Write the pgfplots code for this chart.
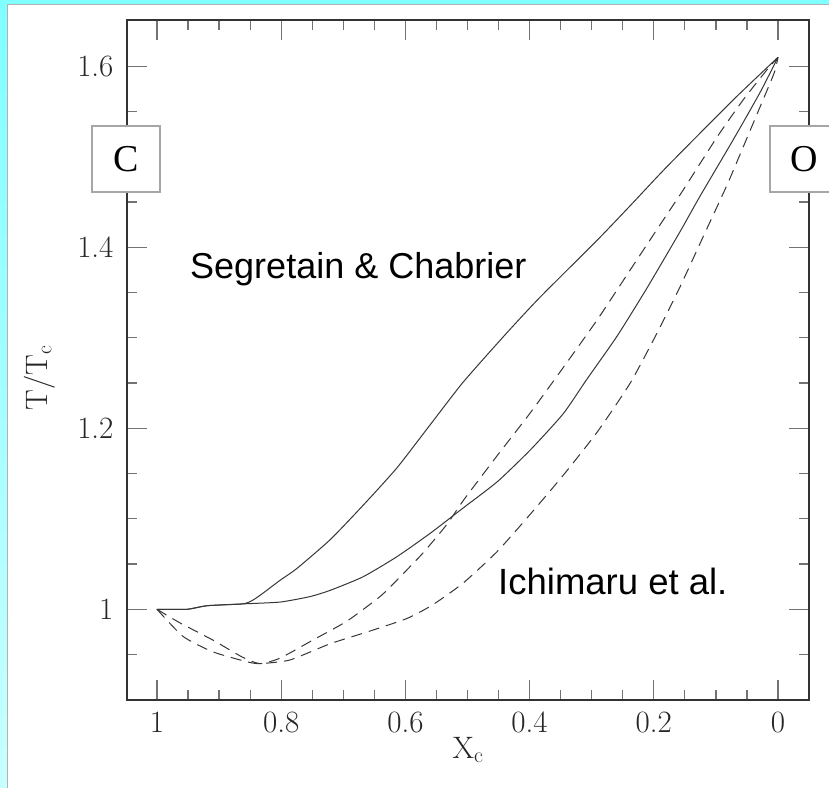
\documentclass[border=0pt]{standalone}
\usepackage{fontspec}
\usepackage{pgfplots}
\pgfplotsset{compat=1.18}
\newfontfamily\sansf{Liberation Sans}
\newfontfamily\seriff{Liberation Serif}
\definecolor{cyantop}{RGB}{128,255,255}
\definecolor{cyanbot}{RGB}{200,255,255}
\definecolor{curve}{RGB}{55,55,55}
\begin{document}
\begin{tikzpicture}
\useasboundingbox (0pt,0pt) rectangle (829pt,787pt);
\clip (0pt,0pt) rectangle (829pt,787pt);
\shade[top color=cyantop, bottom color=cyanbot] (0pt,0pt) rectangle (829pt,787pt);
\filldraw[fill=white, draw=gray!60, line width=1.2pt] (7.5pt,-5pt) rectangle (840pt,782.5pt);
\begin{axis}[
  at={(127pt,87pt)}, anchor=south west,
  scale only axis, width=682pt, height=680pt,
  x dir=reverse,
  xmin=-0.0499, xmax=1.0483, ymin=0.8998, ymax=1.6512,
  xtick={0,0.2,0.4,0.6,0.8,1},
  xticklabels={0,0.2,0.4,0.6,0.8,1},
  ytick={1,1.2,1.4,1.6},
  yticklabels={1,1.2,1.4,1.6},
  minor xtick={0.05,0.1,0.15,0.25,0.3,0.35,0.45,0.5,0.55,0.65,0.7,0.75,0.85,0.9,0.95},
  minor ytick={0.95,1.05,1.1,1.15,1.25,1.3,1.35,1.45,1.5,1.55},
  tick align=inside,
  major tick length=20pt, minor tick length=10pt,
  every tick/.style={black!55, line width=1.2pt},
  axis line style={black!80, line width=1.5pt},
  tick label style={font=\fontsize{31}{36}\selectfont, text=black!85},
  xticklabel shift=8pt,
  yticklabel shift=10pt,
]
% Segretain & Chabrier, upper branch
\addplot[curve, line width=1pt, smooth, tension=0.35] coordinates {
(1.0,1.000) (0.952,1.000) (0.919,1.004) (0.862,1.006) (0.846,1.010) (0.829,1.018)
(0.802,1.032) (0.775,1.045) (0.721,1.077) (0.668,1.115) (0.614,1.156)
(0.560,1.204) (0.507,1.251) (0.436,1.306) (0.383,1.345) (0.291,1.408)
(0.238,1.446) (0.179,1.489) (0.072,1.563) (0.0,1.610)};
% Segretain & Chabrier, lower branch
\addplot[curve, line width=1pt, smooth, tension=0.35] coordinates {
(1.0,1.000) (0.952,1.000) (0.919,1.004) (0.862,1.006) (0.802,1.008)
(0.754,1.014) (0.721,1.021) (0.668,1.036) (0.614,1.058) (0.560,1.084)
(0.507,1.112) (0.452,1.141) (0.399,1.176) (0.346,1.216) (0.308,1.254)
(0.259,1.302) (0.211,1.355) (0.158,1.417) (0.126,1.456) (0.072,1.519)
(0.029,1.571) (0.0,1.610)};
% Ichimaru et al., inner
\addplot[curve, line width=1pt, dash pattern=on 11pt off 7pt, smooth, tension=0.35] coordinates {
(1.0,1.000) (0.963,0.985) (0.910,0.966) (0.862,0.947) (0.834,0.940)
(0.802,0.946) (0.749,0.966) (0.694,0.987) (0.641,1.014) (0.614,1.032)
(0.572,1.062) (0.533,1.094) (0.507,1.120)
(0.452,1.170) (0.399,1.217) (0.346,1.267) (0.291,1.320) (0.238,1.375)
(0.185,1.430) (0.153,1.463) (0.098,1.522) (0.056,1.563) (0.018,1.596) (0.0,1.610)};
% Ichimaru et al., outer
\addplot[curve, line width=1pt, dash pattern=on 11pt off 7pt, smooth, tension=0.35] coordinates {
(1.0,1.000) (0.958,0.970) (0.910,0.953) (0.855,0.942) (0.834,0.940)
(0.786,0.944) (0.721,0.962) (0.657,0.976) (0.597,0.990) (0.556,1.005)
(0.507,1.029) (0.452,1.064) (0.399,1.105) (0.346,1.148)
(0.291,1.196) (0.238,1.250) (0.195,1.305) (0.158,1.356) (0.121,1.411)
(0.082,1.469) (0.056,1.511) (0.029,1.555) (0.006,1.593) (0.0,1.610)};
\end{axis}
\node[font=\fontsize{31}{36}\selectfont, text=black!85] at (468pt,37pt) {X\textsubscript{c}};
\node[font=\fontsize{31}{36}\selectfont, text=black!85, rotate=90] at (40pt,409pt) {T/T\textsubscript{c}};
\node[anchor=base west, inner sep=0pt, font=\sansf\fontsize{36}{40}\selectfont] at (190pt,508pt) {Segretain \& Chabrier};
\node[anchor=base west, inner sep=0pt, font=\sansf\fontsize{36.5}{40}\selectfont] at (498pt,192pt) {Ichimaru et al.};
\node[draw=gray!70, fill=white, line width=1.2pt, minimum width=68pt, minimum height=66pt, inner sep=0pt, font=\seriff\fontsize{38}{40}\selectfont] at (126pt,628pt) {C};
\node[draw=gray!70, fill=white, line width=1.2pt, minimum width=68pt, minimum height=66pt, inner sep=0pt, font=\seriff\fontsize{38}{40}\selectfont] at (804pt,628pt) {O};
\end{tikzpicture}
\end{document}
